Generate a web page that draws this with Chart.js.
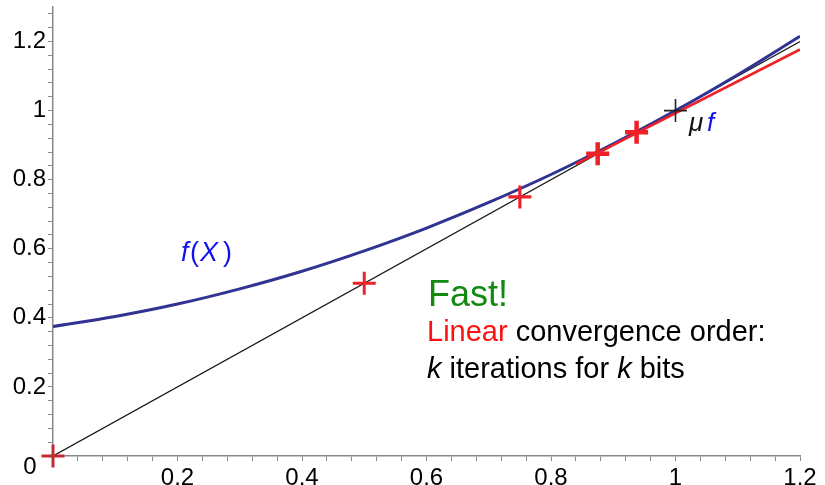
<!DOCTYPE html>
<html><head><meta charset="utf-8">
<script src="https://cdn.jsdelivr.net/npm/chart.js@4/dist/chart.umd.min.js"></script>
<style>html,body{margin:0;padding:0;background:#fff;}#wrap{width:825px;height:485px;}</style>
</head><body><div id="wrap"><canvas id="c" width="825" height="485"></canvas></div>
<script>
// ---- data ----
const curveX = [0, 0.1, 0.2, 0.3, 0.4, 0.5, 0.6, 0.7, 0.8, 0.9, 1.0, 1.1, 1.2];
const curveY = [0.375, 0.404, 0.440, 0.484, 0.535, 0.594, 0.660, 0.734, 0.815, 0.904, 1.000, 1.104, 1.215];
const diagX = [0, 1.2];
const diagY = [0, 1.2];
const tangentX = [0.84, 1.2];
const tangentY = [0.845, 1.177];
const iterX = [0, 0.5, 0.75, 0.875, 0.9375];
const iterY = [0, 0.5, 0.75, 0.875, 0.9375];
const fixedX = [1];
const fixedY = [1];
const xMajorTicks = [0.2, 0.4, 0.6, 0.8, 1, 1.2];
const yMajorTicks = [0.2, 0.4, 0.6, 0.8, 1, 1.2];
const minorStep = 0.04;

const pts = (xs, ys) => xs.map((x, i) => ({x: x, y: ys[i]}));
const isIn = (arr, v) => arr.some(m => Math.abs(m - v) < 1e-6);
const fmt = v => String(Number(v.toFixed(2)));
function tickList(max) {
  const out = [];
  for (let i = 0; i * minorStep <= max + 1e-9; i++) out.push({value: Number((i * minorStep).toFixed(4))});
  return out;
}
const FAM = '"Liberation Sans", Arial, sans-serif';
const axisGray = '#8a8a8a';

const textPlugin = {
  id: 'texts',
  afterDraw(chart) {
    const ctx = chart.ctx;
    ctx.save();
    ctx.textBaseline = 'alphabetic';
    const F = FAM;
    // corner 0
    ctx.fillStyle = '#000';
    ctx.font = '24px ' + F;
    ctx.textAlign = 'center';
    ctx.fillText('0', 30, 474);
    ctx.textAlign = 'left';
    // f(X)
    ctx.fillStyle = '#1010f0';
    ctx.font = 'italic 27px ' + F; ctx.fillText('f', 181, 261);
    ctx.font = '27px ' + F; ctx.fillText('(', 190, 261);
    ctx.font = 'italic 27px ' + F; ctx.fillText('X', 200, 261);
    ctx.font = '27px ' + F; ctx.fillText(')', 223, 261);
    // mu f
    ctx.fillStyle = '#111';
    ctx.font = 'italic 26px ' + F; ctx.fillText('\u03bc', 689, 131);
    ctx.fillStyle = '#1010f0';
    ctx.font = 'italic 26px ' + F; ctx.fillText('f', 707, 131);
    // Fast!
    ctx.fillStyle = '#128a12';
    ctx.font = '36px ' + F; ctx.fillText('Fast!', 428, 306);
    // Linear convergence order:
    ctx.font = '29px ' + F;
    let x = 427;
    ctx.fillStyle = '#ff1010'; ctx.fillText('Linear', x, 341);
    x += ctx.measureText('Linear').width;
    ctx.fillStyle = '#000'; ctx.fillText(' convergence order:', x, 341);
    // k iterations for k bits
    x = 427;
    ctx.font = 'italic 29px ' + F; ctx.fillText('k', x, 378); x += ctx.measureText('k').width;
    ctx.font = '29px ' + F; ctx.fillText(' iterations for ', x, 378); x += ctx.measureText(' iterations for ').width;
    ctx.font = 'italic 29px ' + F; ctx.fillText('k', x, 378); x += ctx.measureText('k').width;
    ctx.font = '29px ' + F; ctx.fillText(' bits', x, 378);
    ctx.restore();
  }
};

new Chart(document.getElementById('c'), {
  type: 'scatter',
  data: {
    datasets: [
      {data: pts(fixedX, fixedY), pointStyle: 'cross', pointRadius: 11.5, pointBorderWidth: 1.6,
       pointBorderColor: '#222', pointBackgroundColor: '#222', showLine: false, order: 0, clip: false},
      {data: pts(iterX, iterY), pointStyle: 'cross', pointRadius: 11.5,
       pointBorderWidth: [3, 3, 3.2, 4.5, 4.5],
       pointBorderColor: ['#c42a34', '#ee2028', '#ee2028', '#ee2028', '#ee2028'],
       showLine: false, order: 1, clip: false},
      {data: pts(tangentX, tangentY), showLine: true, borderColor: '#ee2028', borderWidth: 2.6,
       pointRadius: 0, order: 2},
      {data: pts(curveX, curveY), showLine: true, borderColor: '#303392', borderWidth: 3,
       cubicInterpolationMode: 'monotone', pointRadius: 0, order: 3},
      {data: pts(diagX, diagY), showLine: true, borderColor: '#1a1a1a', borderWidth: 1.3,
       pointRadius: 0, order: 4}
    ]
  },
  options: {
    responsive: false,
    animation: false,
    devicePixelRatio: 1,
    layout: {autoPadding: false, padding: {left: 0, right: 25, top: 7, bottom: 0}},
    plugins: {legend: {display: false}, tooltip: {enabled: false}},
    scales: {
      x: {
        type: 'linear', min: 0, max: 1.2, position: 'bottom',
        afterFit: s => { s.height = 29; s.paddingLeft = 0; s.paddingRight = 0; },
        afterBuildTicks: s => { s.ticks = tickList(1.2); },
        ticks: {autoSkip: false, maxRotation: 0, color: '#000', font: {family: FAM, size: 24}, padding: 3,
          callback: v => isIn(xMajorTicks, v) ? fmt(v) : ''},
        grid: {display: true, drawOnChartArea: false, drawTicks: true, tickLength: 5,
          tickColor: axisGray, tickWidth: 1},
        border: {display: true, color: axisGray, width: 1.5}
      },
      y: {
        type: 'linear', min: 0, max: 1.3,
        afterFit: s => { s.width = 53; s.paddingTop = 0; s.paddingBottom = 0; },
        afterBuildTicks: s => { s.ticks = tickList(1.3); },
        ticks: {autoSkip: false, color: '#000', font: {family: FAM, size: 24, lineHeight: 0.5}, padding: 2,
          callback: v => isIn(yMajorTicks, v) ? fmt(v) : ''},
        grid: {display: true, drawOnChartArea: false, drawTicks: true, tickLength: 5,
          tickColor: axisGray, tickWidth: 1},
        border: {display: true, color: axisGray, width: 1.5}
      }
    }
  },
  plugins: [textPlugin]
});
</script>
</body></html>
